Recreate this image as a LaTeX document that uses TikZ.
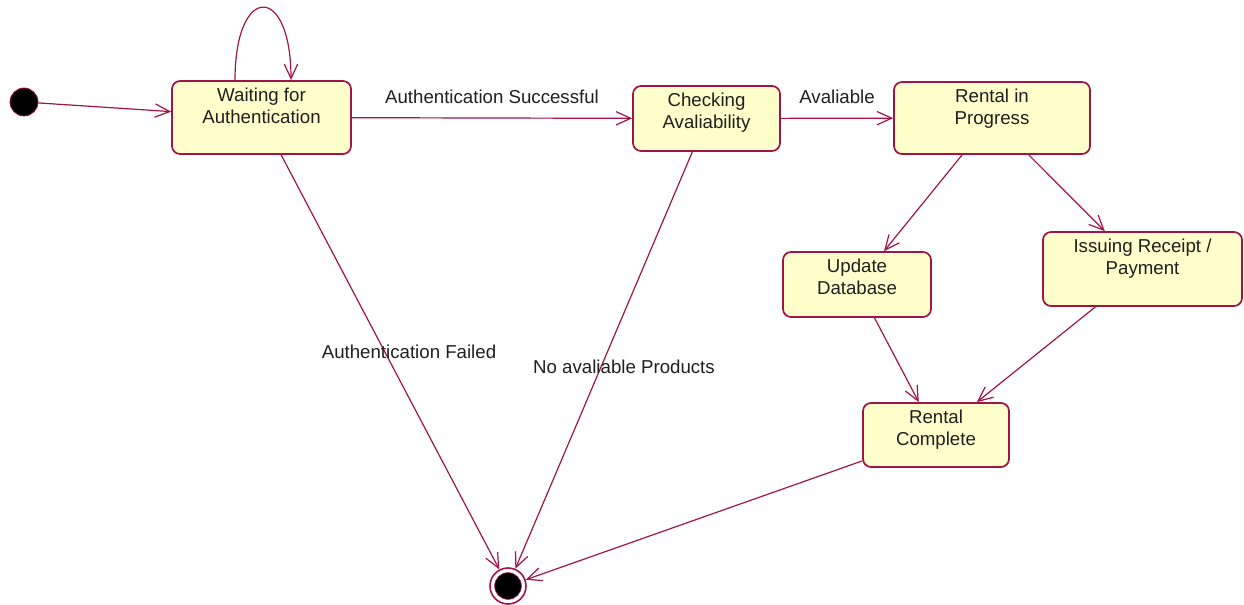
\documentclass[tikz,border=0pt]{standalone}
\usepackage{fontspec}
\setmainfont{Liberation Sans}
\usetikzlibrary{arrows.meta}
\definecolor{umlline}{HTML}{A01448}
\definecolor{umlfill}{HTML}{FFFFCC}

\begin{document}
\begin{tikzpicture}[x=0.75pt, y=-0.75pt,
  statebox/.style={draw=umlline, fill=umlfill, rounded corners=6pt, line width=1.3pt, inner sep=0pt},
  boxsize/.style 2 args={minimum width=#1*0.75pt, minimum height=#2*0.75pt},
  statetext/.style={anchor=north, align=center, inner sep=0pt, yshift=-6pt,
    text=black!88, font=\fontsize{14}{16.5}\selectfont},
  lbl/.style={inner sep=0pt, text=black!88, font=\fontsize{14}{16.5}\selectfont},
  trans/.style={draw=umlline, line width=0.9pt, -{Straight Barb[length=11pt,width=10pt]}},
  initstate/.style={circle, fill=black, draw=umlline, line width=0.6pt, minimum size=21pt, inner sep=0pt},
  finalring/.style={circle, fill=white, draw=umlline, line width=1.2pt, minimum size=27pt, inner sep=0pt},
  finaldot/.style={circle, fill=black, draw=umlline, line width=0.5pt, minimum size=20pt, inner sep=0pt},
]
\useasboundingbox (0,0) rectangle (1244,605);

% pseudo states
\node[initstate] (init) at (24,102) {};
\node[finalring] (final) at (508,586) {};
\node[finaldot] (final-dot) at (final.center) {};

% states
\node[statebox, boxsize={179}{73}] (wait) at (261.5,117.5) {};
\node[statetext] (wait-t) at (wait.north) {Waiting for\\Authentication};

\node[statebox, boxsize={147}{65}] (check) at (706.5,118.5) {};
\node[statetext] (check-t) at (check.north) {Checking\\Avaliability};

\node[statebox, boxsize={196}{72}] (rent) at (992,118) {};
\node[statetext] (rent-t) at (rent.north) {Rental in\\Progress};

\node[statebox, boxsize={148}{65}] (update) at (857,284.5) {};
\node[statetext] (update-t) at (update.north) {Update\\Database};

\node[statebox, boxsize={199}{74}] (receipt) at (1142.5,269) {};
\node[statetext] (receipt-t) at (receipt.north) {Issuing Receipt /\\Payment};

\node[statebox, boxsize={146}{64}] (done) at (936,435) {};
\node[statetext] (done-t) at (done.north) {Rental\\Complete};

% transitions
\draw[trans] (init) -- (wait);

\coordinate (loop-out) at ([xshift=-19.875pt]wait.north);
\coordinate (loop-in) at ([xshift=22.125pt]wait.north);
\draw[trans] (loop-out) .. controls +(0,-97) and +(0,-97) .. (loop-in);

\draw[trans] (wait) -- node[lbl, yshift=15.75pt] (succ-lbl) {Authentication Successful} (check);
\draw[trans] (check) -- node[lbl, yshift=15.75pt] (avail-lbl) {Avaliable} (rent);
\draw[trans] (wait) -- (final);
\draw[trans] (check) -- (final);
\draw[trans] (rent) -- (update);
\draw[trans] (rent) -- (receipt);
\draw[trans] (update) -- (done);
\draw[trans] (receipt) -- (done);
\draw[trans] (done) -- (final);

% labels of the failure transitions
\node[lbl] (fail-lbl) at (409,352) {Authentication Failed};
\node[lbl] (none-lbl) at (624,367) {No avaliable Products};
\end{tikzpicture}
\end{document}
